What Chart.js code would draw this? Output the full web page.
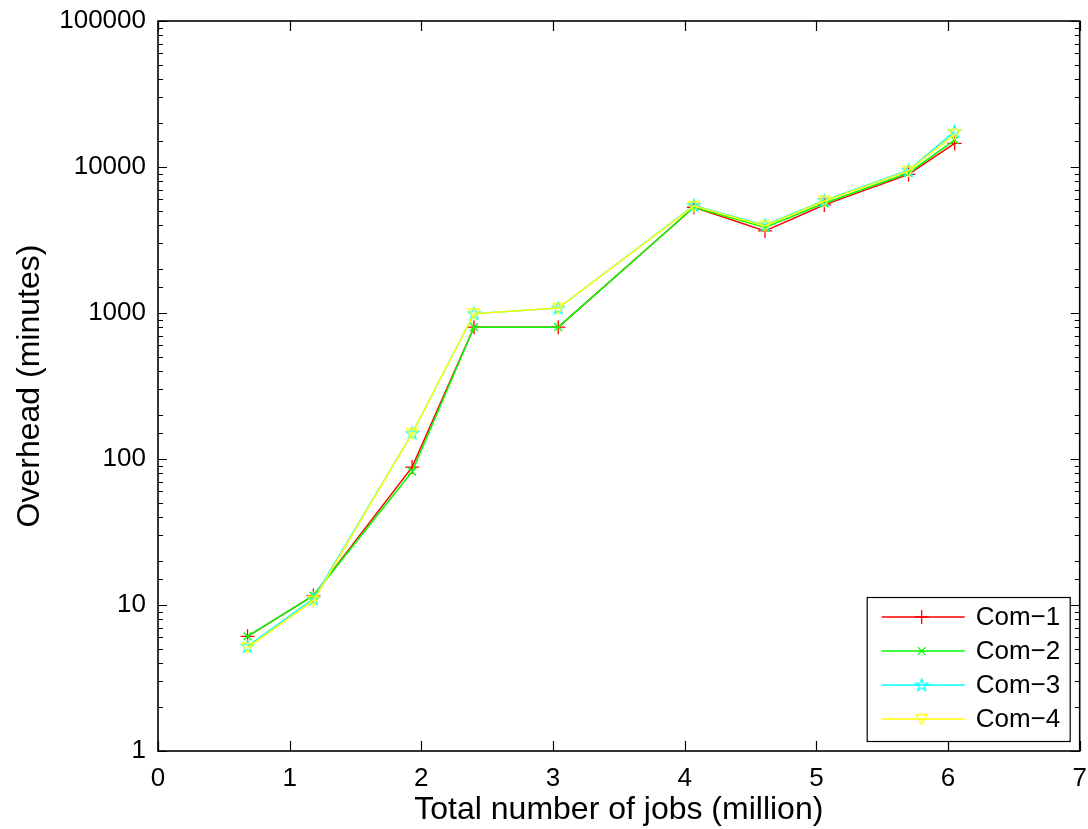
<!DOCTYPE html>
<html>
<head>
<meta charset="utf-8">
<script src="https://cdn.jsdelivr.net/npm/chart.js@4/dist/chart.umd.min.js"></script>
<style>
    html, body { margin: 0; padding: 0; background: #fff; }
    canvas { display: block; }
</style>
</head>
<body>
<canvas id="overheadChart" width="1088" height="829"></canvas>
<script>
// Overhead vs. total number of jobs, log scale

const jobsMillion = [0.68, 1.18, 1.93, 2.40, 3.04, 4.07, 4.61, 5.06, 5.70, 6.05];
const com1 = [6.1, 11.6, 88, 800, 800, 5300, 3650, 5500, 8900, 14500];
const com2 = [6.1, 11.6, 82, 800, 800, 5300, 3850, 5650, 9100, 15300];
const com3 = [5.2, 11.0, 150, 990, 1080, 5450, 4000, 5900, 9500, 17500];
const com4 = [5.1, 10.7, 150, 990, 1080, 5400, 3950, 5850, 9400, 16800];

const seriesNames = ['Com\u22121', 'Com\u22122', 'Com\u22123', 'Com\u22124'];
const seriesColors = ['#ff0000', '#00ff00', '#00ffff', '#ffff00'];

const xTickValues = [0, 1, 2, 3, 4, 5, 6, 7];
const yTickLabels = [1, 10, 100, 1000, 10000, 100000];

const FONT = "'Liberation Sans', Arial, Helvetica, sans-serif";

/**
 * Small canvases for the MATLAB style markers
 */
function makePentagram(color) {
    const c = document.createElement('canvas');
    c.width = 15; c.height = 15;
    const g = c.getContext('2d');
    const r = 6.5, ri = 2.6, cx = 7.5, cy = 7.8;
    g.beginPath();
    for (let i = 0; i < 10; i++) {
        const a = -Math.PI / 2 + i * Math.PI / 5;
        const rr = i % 2 === 0 ? r : ri;
        const px = cx + rr * Math.cos(a), py = cy + rr * Math.sin(a);
        if (i === 0) g.moveTo(px, py); else g.lineTo(px, py);
    }
    g.closePath();
    g.strokeStyle = color;
    g.lineWidth = 1.2;
    g.stroke();
    return c;
}

function makeTriangleDown(color) {
    const c = document.createElement('canvas');
    c.width = 15; c.height = 15;
    const g = c.getContext('2d');
    g.beginPath();
    g.moveTo(2, 3);
    g.lineTo(13, 3);
    g.lineTo(7.5, 13);
    g.closePath();
    g.strokeStyle = color;
    g.lineWidth = 1.3;
    g.stroke();
    return c;
}

const markerStyles = ['cross', 'crossRot', makePentagram(seriesColors[2]), makeTriangleDown(seriesColors[3])];
const markerRadius = [7, 5.5, 6, 6];

function toPoints(values) {
    return values.map((v, i) => ({ x: jobsMillion[i], y: v }));
}

const seriesValues = [com1, com2, com3, com4];

const datasets = seriesValues.map((vals, i) => ({
    label: seriesNames[i],
    data: toPoints(vals),
    borderColor: seriesColors[i],
    backgroundColor: seriesColors[i],
    borderWidth: 1.5,
    pointStyle: markerStyles[i],
    pointRadius: markerRadius[i],
    pointBorderWidth: 1.3,
    pointBorderColor: seriesColors[i],
    fill: false,
    tension: 0,
    order: 4 - i
}));

/**
 * Draw one marker for the legend
 */
function drawMarker(ctx, i, x, y) {
    const style = markerStyles[i];
    const r = markerRadius[i];
    ctx.save();
    ctx.strokeStyle = seriesColors[i];
    ctx.lineWidth = 1.3;
    if (style === 'cross') {
        ctx.beginPath();
        ctx.moveTo(x - r, y); ctx.lineTo(x + r, y);
        ctx.moveTo(x, y - r); ctx.lineTo(x, y + r);
        ctx.stroke();
    } else if (style === 'crossRot') {
        const d = r * Math.SQRT1_2;
        ctx.beginPath();
        ctx.moveTo(x - d, y - d); ctx.lineTo(x + d, y + d);
        ctx.moveTo(x - d, y + d); ctx.lineTo(x + d, y - d);
        ctx.stroke();
    } else {
        ctx.drawImage(style, x - style.width / 2, y - style.height / 2);
    }
    ctx.restore();
}

/**
 * Box, inward ticks and legend (MATLAB look)
 */
const matlabFrame = {
    id: 'matlabFrame',
    afterDraw(chart) {
        const { ctx, chartArea: a, scales } = chart;
        ctx.save();
        ctx.strokeStyle = '#000';
        ctx.lineWidth = 1.6;
        ctx.strokeRect(a.left, a.top, a.right - a.left, a.bottom - a.top);

        ctx.lineWidth = 1.2;
        ctx.beginPath();
        scales.x.ticks.forEach(t => {
            const px = Math.round(scales.x.getPixelForValue(t.value)) + 0.5;
            ctx.moveTo(px, a.bottom); ctx.lineTo(px, a.bottom - 10);
            ctx.moveTo(px, a.top); ctx.lineTo(px, a.top + 10);
        });
        scales.y.ticks.forEach(t => {
            const py = Math.round(scales.y.getPixelForValue(t.value)) + 0.5;
            const major = yTickLabels.includes(t.value);
            const len = major ? 9 : 5;
            ctx.moveTo(a.left, py); ctx.lineTo(a.left + len, py);
            ctx.moveTo(a.right, py); ctx.lineTo(a.right - len, py);
        });
        ctx.stroke();

        // legend box
        const bx = a.right - 213, by = a.bottom - 154, bw = 203, bh = 144;
        ctx.fillStyle = '#fff';
        ctx.fillRect(bx, by, bw, bh);
        ctx.strokeStyle = '#000';
        ctx.lineWidth = 1.2;
        ctx.strokeRect(bx + 0.5, by + 0.5, bw, bh);

        ctx.font = '26px ' + FONT;
        ctx.textBaseline = 'middle';
        ctx.textAlign = 'left';
        seriesNames.forEach((name, i) => {
            const ry = by + 20 + i * 34;
            ctx.strokeStyle = seriesColors[i];
            ctx.lineWidth = 1.5;
            ctx.beginPath();
            ctx.moveTo(bx + 15, ry); ctx.lineTo(bx + 98, ry);
            ctx.stroke();
            drawMarker(ctx, i, bx + 55, ry);
            ctx.fillStyle = '#000';
            ctx.fillText(name, bx + 109, ry + 1);
        });
        ctx.restore();
    }
};

const ctx = document.getElementById('overheadChart');

new Chart(ctx, {
    type: 'line',
    data: { datasets: datasets },
    plugins: [matlabFrame],
    options: {
        responsive: false,
        animation: false,
        layout: { padding: { top: 21, right: 8, left: 0, bottom: 0 } },
        plugins: {
            legend: { display: false },
            tooltip: { enabled: false }
        },
        scales: {
            x: {
                type: 'linear',
                min: 0,
                max: 7,
                afterBuildTicks: scale => {
                    scale.ticks = xTickValues.map(v => ({ value: v }));
                },
                afterFit: scale => {
                    scale.height = 78;
                    scale.paddingLeft = 0;
                    scale.paddingRight = 0;
                },
                grid: { display: false, drawTicks: false },
                border: { display: false },
                ticks: {
                    color: '#000',
                    padding: 12,
                    font: { family: FONT, size: 26 }
                },
                title: {
                    display: true,
                    text: 'Total number of jobs (million)',
                    color: '#000',
                    font: { family: FONT, size: 32 },
                    padding: { top: 0, bottom: 0 }
                }
            },
            y: {
                type: 'logarithmic',
                min: 1,
                max: 100000,
                afterFit: scale => {
                    scale.width = 158;
                    scale.paddingTop = 0;
                    scale.paddingBottom = 0;
                },
                grid: { display: false, drawTicks: false },
                border: { display: false },
                ticks: {
                    color: '#000',
                    padding: 12,
                    autoSkip: false,
                    font: { family: FONT, size: 26 },
                    callback: function(value) {
                        return yTickLabels.includes(value) ? String(value) : '';
                    }
                },
                title: {
                    display: true,
                    text: 'Overhead (minutes)',
                    color: '#000',
                    font: { family: FONT, size: 32 },
                    padding: { top: 11, bottom: 0 }
                }
            }
        }
    }
});
</script>
</body>
</html>
